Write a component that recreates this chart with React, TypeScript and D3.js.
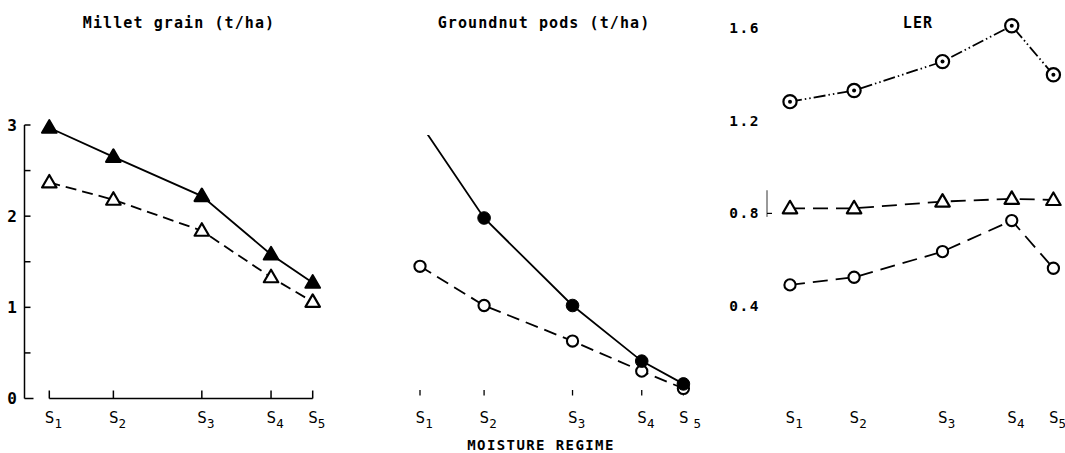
import React from 'react';
import * as d3 from 'd3';

// ---- data ----
const regimes = ['1', '2', '3', '4', '5'];
// relative spacing of the moisture regimes along the x axis
const regimePosition = [0, 1.0, 2.38, 3.46, 4.11];

const milletA = [2.97, 2.65, 2.22, 1.58, 1.27]; // filled triangles, solid
const milletB = [2.37, 2.18, 1.84, 1.33, 1.06]; // open triangles, dashed
const groundnutA = [3.02, 1.98, 1.02, 0.41, 0.16]; // filled circles, solid
const groundnutB = [1.45, 1.02, 0.63, 0.3, 0.11]; // open circles, dashed
const lerTotal = [1.283, 1.331, 1.456, 1.611, 1.399]; // dotted circles
const lerMillet = [0.822, 0.822, 0.851, 0.863, 0.858]; // open triangles
const lerGroundnut = [0.491, 0.524, 0.635, 0.769, 0.563]; // open circles

const yieldMajorTicks = [0, 1, 2, 3];
const yieldMinorTicks = [0.5, 1.5, 2.5];
const lerTicks = [0.4, 0.8, 1.2, 1.6];

const titles = ['Millet grain (t/ha)', 'Groundnut pods (t/ha)', 'LER'];

// ---- layout ----
const W = 1065;
const H = 453;
const panelX0 = [49.3, 420, 790];
const panelSpan = 263.4;
const titleX = [179, 544, 918];
const FONT = "'DejaVu Sans Mono', 'Liberation Mono', monospace";

const yYield = d3.scaleLinear().domain([0, 3]).range([398.5, 125]);
const yLer = d3.scaleLinear().domain([0, 1.6]).range([398.5, 28.3]);
const xScales = panelX0.map((x0) =>
  d3.scaleLinear().domain([0, d3.max(regimePosition) as number]).range([x0, x0 + panelSpan])
);

type MarkerType = 'triFilled' | 'triOpen' | 'circFilled' | 'circOpen' | 'circDot';

function Marker({ type, x, y }: { type: MarkerType; x: number; y: number }) {
  if (type === 'triFilled' || type === 'triOpen') {
    const w = 14.5;
    const h = 12.5;
    const d = `M0,${-h * 0.6}L${w / 2},${h * 0.4}L${-w / 2},${h * 0.4}Z`;
    return (
      <path
        d={d}
        transform={`translate(${x},${y})`}
        fill={type === 'triFilled' ? '#000' : '#fff'}
        stroke="#000"
        strokeWidth={2.2}
        strokeLinejoin="round"
      />
    );
  }
  if (type === 'circFilled') {
    return <circle cx={x} cy={y} r={6.3} fill="#000" stroke="#000" strokeWidth={1} />;
  }
  if (type === 'circOpen') {
    return <circle cx={x} cy={y} r={5.6} fill="#fff" stroke="#000" strokeWidth={2.1} />;
  }
  return (
    <g>
      <circle cx={x} cy={y} r={6.6} fill="#fff" stroke="#000" strokeWidth={2.2} />
      <circle cx={x} cy={y} r={2} fill="#000" />
    </g>
  );
}

interface Series {
  values: number[];
  marker: MarkerType;
  dash?: string;
  hideFirstMarker?: boolean;
  clipTop?: number;
}

function SeriesPlot({
  s,
  x,
  y,
  id,
}: {
  s: Series;
  x: d3.ScaleLinear<number, number>;
  y: d3.ScaleLinear<number, number>;
  id: string;
}) {
  const line = d3
    .line<number>()
    .x((_, i) => x(regimePosition[i]))
    .y((v) => y(v));
  const clipId = `clip-${id}`;
  return (
    <g>
      {s.clipTop !== undefined && (
        <clipPath id={clipId}>
          <rect x={0} y={y(s.clipTop)} width={W} height={H} />
        </clipPath>
      )}
      <path
        d={line(s.values) || ''}
        fill="none"
        stroke="#000"
        strokeWidth={1.8}
        strokeDasharray={s.dash}
        clipPath={s.clipTop !== undefined ? `url(#${clipId})` : undefined}
      />
      {s.values.map((v, i) =>
        s.hideFirstMarker && i === 0 ? null : (
          <Marker key={i} type={s.marker} x={x(regimePosition[i])} y={y(v)} />
        )
      )}
    </g>
  );
}

function RegimeLabels({ x, spaced }: { x: d3.ScaleLinear<number, number>; spaced?: boolean }) {
  return (
    <g>
      {regimes.map((r, i) => (
        <text
          key={r}
          x={x(regimePosition[i]) - 4.5}
          y={423}
          fontFamily={FONT}
          fontSize={16}
          fill="#000"
        >
          S
          <tspan dy={5} dx={spaced && i === 4 ? 5 : 0} fontSize={12.5}>
            {r}
          </tspan>
        </text>
      ))}
    </g>
  );
}

export default function App() {
  const [x1, x2, x3] = xScales;

  const milletSeries: Series[] = [
    { values: milletB, marker: 'triOpen', dash: '11,6' },
    { values: milletA, marker: 'triFilled' },
  ];
  const groundnutSeries: Series[] = [
    { values: groundnutB, marker: 'circOpen', dash: '13,7' },
    { values: groundnutA, marker: 'circFilled', hideFirstMarker: true, clipTop: 2.89 },
  ];
  const lerSeries: Series[] = [
    { values: lerGroundnut, marker: 'circOpen', dash: '15,8' },
    { values: lerMillet, marker: 'triOpen', dash: '15,8' },
    { values: lerTotal, marker: 'circDot', dash: '12,3,1.5,3,1.5,3' },
  ];

  const axisX = 24.5;

  return (
    <svg
      width={W}
      height={H}
      viewBox={`0 0 ${W} ${H}`}
      style={{ position: 'absolute', left: 0, top: 0, background: '#fff' }}
    >
      <rect x={0} y={0} width={W} height={H} fill="#fff" />

      {/* titles */}
      {titles.map((t, i) => (
        <text
          key={t}
          x={titleX[i]}
          y={27.5}
          textAnchor="middle"
          fontFamily={FONT}
          fontWeight="bold"
          fontSize={15}
          letterSpacing={1.1}
          fill="#000"
        >
          {t}
        </text>
      ))}

      {/* ---- panel 1: millet ---- */}
      <g>
        <line x1={axisX} x2={axisX} y1={yYield(3)} y2={yYield(0)} stroke="#000" strokeWidth={1.5} />
        {yieldMajorTicks.concat(yieldMinorTicks).map((t) => (
          <line
            key={t}
            x1={axisX}
            x2={axisX + (t === 0 ? 9 : 6)}
            y1={yYield(t)}
            y2={yYield(t)}
            stroke="#000"
            strokeWidth={1.5}
          />
        ))}
        {yieldMajorTicks.map((t) => (
          <text
            key={t}
            x={17}
            y={yYield(t) + 5.5}
            textAnchor="end"
            fontFamily={FONT}
            fontWeight="bold"
            fontSize={16}
            fill="#000"
          >
            {t}
          </text>
        ))}
        <line
          x1={x1(regimePosition[0])}
          x2={x1(regimePosition[4])}
          y1={yYield(0)}
          y2={yYield(0)}
          stroke="#000"
          strokeWidth={1.5}
        />
        {regimePosition.map((p, i) => (
          <line
            key={i}
            x1={x1(p)}
            x2={x1(p)}
            y1={yYield(0)}
            y2={yYield(0) - 8}
            stroke="#000"
            strokeWidth={1.5}
          />
        ))}
        {milletSeries.map((s, i) => (
          <SeriesPlot key={i} s={s} x={x1} y={yYield} id={`m${i}`} />
        ))}
        <RegimeLabels x={x1} />
      </g>

      {/* ---- panel 2: groundnut ---- */}
      <g>
        {regimePosition.map((p, i) => (
          <line
            key={i}
            x1={x2(p)}
            x2={x2(p)}
            y1={390}
            y2={395.5}
            stroke="#000"
            strokeWidth={1.3}
          />
        ))}
        {groundnutSeries.map((s, i) => (
          <SeriesPlot key={i} s={s} x={x2} y={yYield} id={`g${i}`} />
        ))}
        <RegimeLabels x={x2} spaced />
        <text
          x={541}
          y={450}
          textAnchor="middle"
          fontFamily={FONT}
          fontWeight="bold"
          fontSize={14}
          letterSpacing={1.4}
          fill="#000"
        >
          MOISTURE  REGIME
        </text>
      </g>

      {/* ---- panel 3: LER ---- */}
      <g>
        {lerTicks.map((t) => (
          <text
            key={t}
            x={760}
            y={yLer(t) + 5}
            textAnchor="end"
            fontFamily={FONT}
            fontWeight="bold"
            fontSize={14.5}
            letterSpacing={1.5}
            fill="#000"
          >
            {t.toFixed(1)}
          </text>
        ))}
        <line x1={767} x2={767} y1={yLer(0.785)} y2={yLer(0.9)} stroke="#000" strokeWidth={0.8} />
        <line x1={767} x2={772} y1={yLer(0.8)} y2={yLer(0.8)} stroke="#000" strokeWidth={1.2} />
        {lerSeries.map((s, i) => (
          <SeriesPlot key={i} s={s} x={x3} y={yLer} id={`l${i}`} />
        ))}
        <RegimeLabels x={x3} />
      </g>
    </svg>
  );
}
